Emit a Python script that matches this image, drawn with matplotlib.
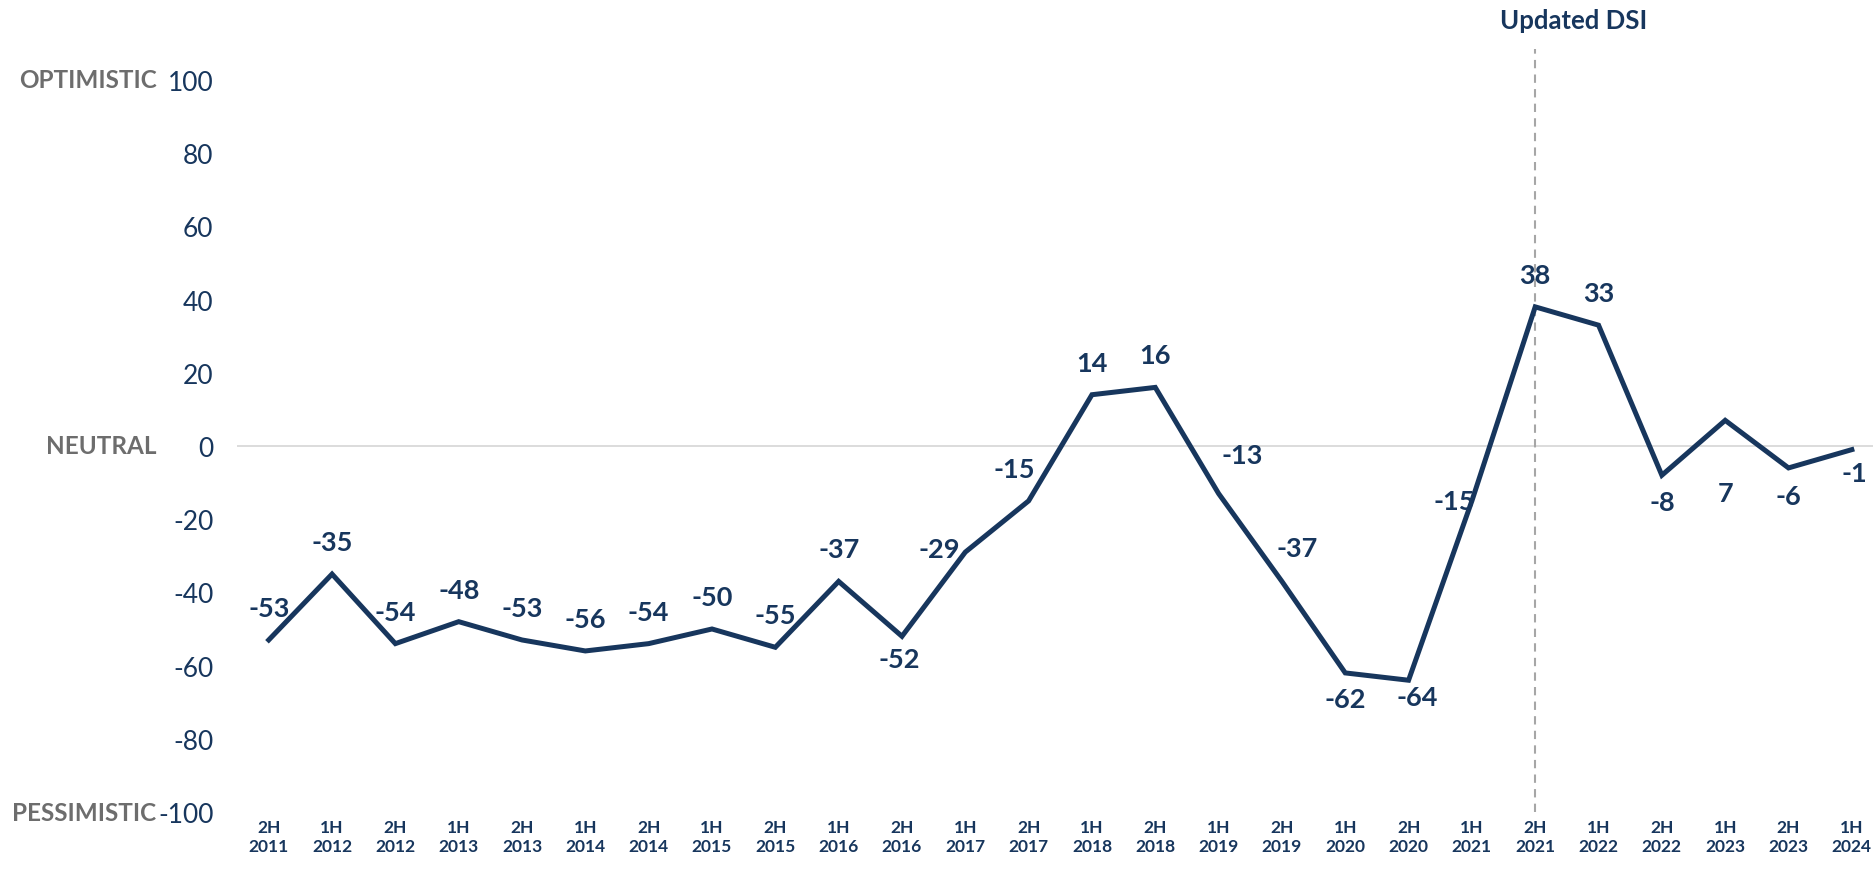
import numpy as np
import matplotlib
matplotlib.use("Agg")
from matplotlib import pyplot as plt

# half-year periods and index values
periods = ["2H\n2011", "1H\n2012", "2H\n2012", "1H\n2013", "2H\n2013", "1H\n2014", "2H\n2014",
           "1H\n2015", "2H\n2015", "1H\n2016", "2H\n2016", "1H\n2017", "2H\n2017", "1H\n2018",
           "2H\n2018", "1H\n2019", "2H\n2019", "1H\n2020", "2H\n2020", "1H\n2021", "2H\n2021",
           "1H\n2022", "2H\n2022", "1H\n2023", "2H\n2023", "1H\n2024"]
dsi = [-53, -35, -54, -48, -53, -56, -54, -50, -55, -37, -52, -29, -15, 14,
       16, -13, -37, -62, -64, -15, 38, 33, -8, 7, -6, -1]
yticks = [-100, -80, -60, -40, -20, 0, 20, 40, 60, 80, 100]
side_labels = {100: "OPTIMISTIC", 0: "NEUTRAL", -100: "PESSIMISTIC"}

# label offsets in points (default above the point)
offsets = {10: (-2, -16), 11: (-19, 2), 12: (-10, 23), 15: (17, 28), 16: (11, 24),
           17: (0, -19), 18: (6, -12), 19: (-13, 0), 22: (0, -19), 23: (0, -52),
           24: (0, -20), 25: (2, -17)}

navy = "#17365d"
gray = "#6d6d6d"
plt.rcParams['font.family'] = ['Lato', 'DejaVu Sans']

fig = plt.figure(figsize=(18.74, 8.7), dpi=100)
ax = fig.add_axes([0.1265, 0.0655, 0.8735, 0.8415])

x = np.arange(len(dsi))
ax.axhline(0, color="#d9d9d9", lw=1.3, zorder=1)
ax.plot(x, dsi, color=navy, lw=3.6, solid_joinstyle="miter", zorder=3)

for i, v in enumerate(dsi):
    dx, dy = offsets.get(i, (0, 23))
    ax.annotate(str(v), (i, v), xytext=(dx, dy), textcoords="offset points",
                ha="center", va="center", fontsize=19.5, fontweight="bold", color=navy)

# updated DSI marker
ax.plot([20, 20], [-100, 108.5], color="#a6a6a6", lw=1.5, ls=(0, (4, 3)), clip_on=False, zorder=2)
ax.text(20.6, 116.5, "Updated DSI", ha="center", va="center", fontsize=18.5,
        fontweight="bold", color=navy, clip_on=False)

ax.set_xlim(-0.5, 25.35)
ax.set_ylim(-100, 100)
ax.set_xticks(x)
ax.set_xticklabels(periods, fontsize=12.5, fontweight="bold", color=navy, linespacing=1.25)
ax.set_yticks(yticks)
ax.set_yticklabels([str(t) for t in yticks], fontsize=19, color=navy)
ax.tick_params(length=0, pad=17)
ax.tick_params(axis="x", pad=5)
for s in ax.spines.values():
    s.set_visible(False)

for val, txt in side_labels.items():
    ax.annotate(txt, (0, val), xycoords=("axes fraction", "data"), xytext=(-58, 0),
                textcoords="offset points", ha="right", va="center",
                fontsize=17.5, fontweight="bold", color=gray)

fig.savefig("out.png", dpi=100)
